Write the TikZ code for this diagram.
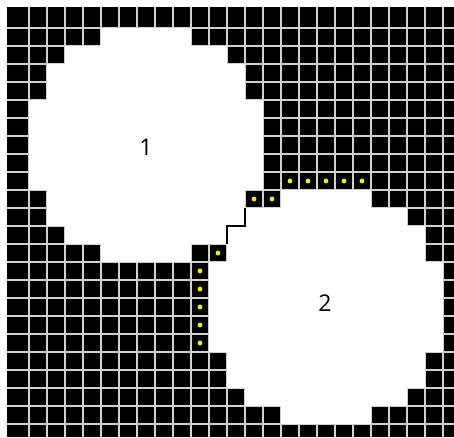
\documentclass[tikz,border=0pt]{standalone}
\usepackage{fontspec}
\setmainfont{Open Sans}
\definecolor{gridc}{gray}{0.82}
\definecolor{dotc}{RGB}{245,240,0}
\tikzset{
  cellfill/.style={fill=white},
  gridline/.style={draw=gridc, line width=1.3pt},
  seam/.style={draw=black, line width=1.2pt},
  pixdot/.style={fill=dotc},
  lab/.style={font=\fontsize{23}{23}\selectfont, inner sep=0pt}
}
\begin{document}
\begin{tikzpicture}[x=1pt,y=-1pt]
\useasboundingbox (0,0) rectangle (454,437);
% black field
\fill[black] (7,7) rectangle (454,437);
% grid lines
\foreach \k in {0,...,23} { \draw[gridline] ({29+18*\k},7) -- ({29+18*\k},437); }
\foreach \j in {0,...,22} { \draw[gridline] (7,{28+18*\j}) -- (454,{28+18*\j}); }
% circle 1
\foreach \j/\a/\b in {1/5/9, 2/3/11, 3/2/12, 4/2/12, 5/1/13, 6/1/13, 7/1/13, 8/1/13, 9/1/13, 10/2/12, 11/2/12, 12/3/11, 13/5/9}
  { \fill[cellfill] ({11+18*\a},{10+18*\j}) rectangle ({11+18*(\b+1)},{10+18*(\j+1)}); }
% circle 2
\foreach \j/\a/\b in {10/15/19, 11/13/21, 12/12/22, 13/12/22, 14/11/23, 15/11/23, 16/11/23, 17/11/23, 18/11/23, 19/12/22, 20/12/22, 21/13/21, 22/15/19}
  { \fill[cellfill] ({11+18*\a},{10+18*\j}) rectangle ({11+18*(\b+1)},{10+18*(\j+1)}); }
% seam between the two regions
\coordinate (s1) at (245,208);
\coordinate (s2) at (245,226);
\coordinate (s3) at (227,226);
\coordinate (s4) at (227,244);
\draw[seam] (s1) -- (s2) -- (s3) -- (s4);
% boundary dots
\foreach \k/\j in {15/9, 16/9, 17/9, 18/9, 19/9, 13/10, 14/10, 11/13, 10/14, 10/15, 10/16, 10/17, 10/18}
  { \fill[pixdot] ({20+18*\k},{19+18*\j}) circle (2.4); }
% labels
\node[lab] (l1) at (146,147) {1};
\node[lab] (l2) at (325,303) {2};
\end{tikzpicture}
\end{document}
